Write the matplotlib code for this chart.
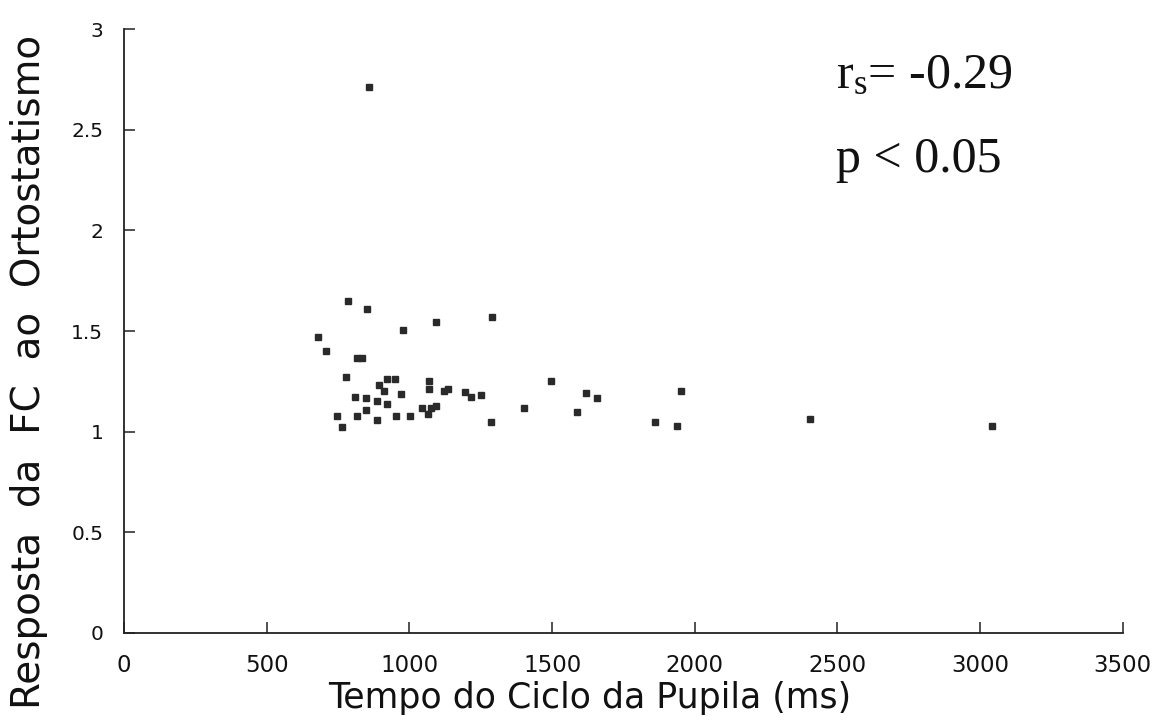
import matplotlib
matplotlib.use("Agg")
import matplotlib.pyplot as plt

# Data
pupil_cycle_ms = [785, 853, 1093, 979, 680, 706, 815, 835, 776, 920, 950,
                  892, 910, 1068, 1068, 970, 809, 847, 886, 923, 1120, 1134,
                  848, 746, 815, 886, 954, 1001, 1045, 1064, 1077, 1094, 763,
                  1290, 1196, 1216, 1252, 1285, 1495, 1400, 1620, 1587, 1656,
                  1950, 1862, 1936, 2405, 3040, 858]
hr_response = [1.65, 1.61, 1.545, 1.505, 1.47, 1.40, 1.365, 1.365, 1.27, 1.26, 1.26,
               1.23, 1.20, 1.25, 1.21, 1.185, 1.17, 1.165, 1.15, 1.14, 1.20, 1.21,
               1.11, 1.08, 1.08, 1.06, 1.08, 1.08, 1.12, 1.09, 1.12, 1.13, 1.025,
               1.57, 1.195, 1.17, 1.18, 1.05, 1.25, 1.12, 1.19, 1.10, 1.165,
               1.20, 1.05, 1.03, 1.065, 1.03, 2.71]

x_ticks = [0, 500, 1000, 1500, 2000, 2500, 3000, 3500]
y_ticks = [0, 0.5, 1, 1.5, 2, 2.5, 3]
y_tick_labels = ["0", "0.5", "1", "1.5", "2", "2.5", "3"]

plt.rcParams['mathtext.fontset'] = 'custom'
plt.rcParams['mathtext.rm'] = 'Liberation Serif'
plt.rcParams['mathtext.it'] = 'Liberation Serif'

fig = plt.figure(figsize=(11.54, 7.27), dpi=100)
ax = fig.add_axes([0.1075, 0.1293, 0.8655, 0.8307])

ax.plot(pupil_cycle_ms, hr_response, linestyle='none', marker='s',
        markersize=4.3, color='#2a2a2a', markeredgecolor='#2a2a2a')

ax.set_xlim(0, 3500)
ax.set_ylim(0, 3)
ax.spines['top'].set_visible(False)
ax.spines['right'].set_visible(False)
for s in ('left', 'bottom'):
    ax.spines[s].set_linewidth(1.3)
    ax.spines[s].set_color('#222222')

ax.set_xticks(x_ticks)
ax.set_xticklabels([str(t) for t in x_ticks], fontfamily='DejaVu Sans',
                   fontsize=16.5)
ax.set_yticks(y_ticks)
ax.set_yticklabels(y_tick_labels, fontfamily='DejaVu Sans', fontsize=14.5)
ax.tick_params(axis='both', direction='in', length=8, width=1.1,
               color='#222222', labelcolor='#111111')
ax.tick_params(axis='x', pad=15)
ax.tick_params(axis='y', pad=15)

ax.set_xlabel('Tempo do Ciclo da Pupila (ms)', fontfamily='DejaVu Sans',
              fontsize=25, color='#111111')
ax.xaxis.set_label_coords(0.466, -0.080)
ax.set_ylabel('Resposta  da  FC  ao  Ortostatismo', fontfamily='DejaVu Sans',
              fontsize=28, color='#111111')
ax.yaxis.set_label_coords(-0.076, 0.432)

ax.text(0.713, 0.902, r'$\mathrm{r_s}$= -0.29', transform=ax.transAxes,
        fontfamily='Liberation Serif', fontsize=36, color='#111111',
        ha='left', va='baseline')
ax.text(0.713, 0.763, 'p < 0.05', transform=ax.transAxes,
        fontfamily='Liberation Serif', fontsize=36, color='#111111',
        ha='left', va='baseline')

fig.savefig('out.png', dpi=100)
